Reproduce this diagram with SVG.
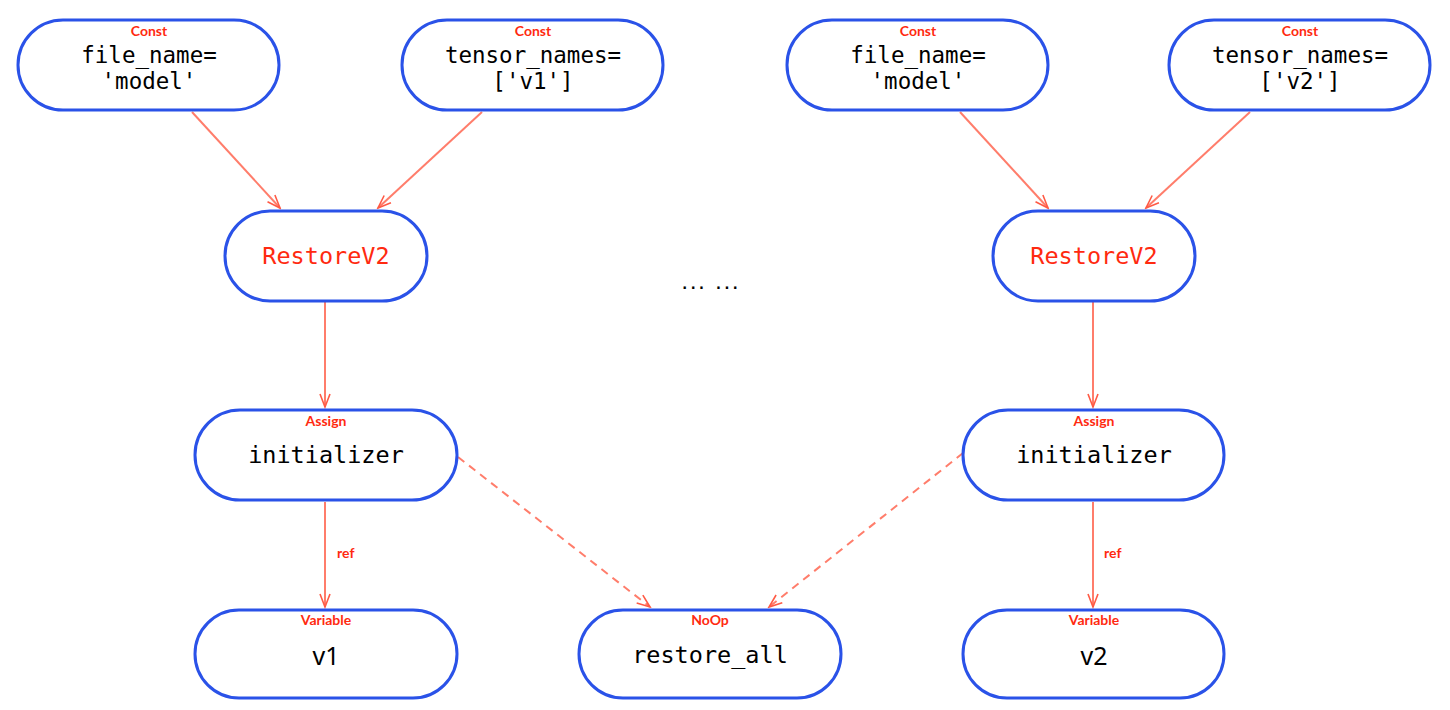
<svg xmlns="http://www.w3.org/2000/svg" width="1450" height="710" viewBox="0 0 1450 710">
<defs>
<style>
.node{fill:#fff;stroke:#2a52e8;stroke-width:3}
.type{font-family:"Lato","Open Sans",sans-serif;font-weight:bold;font-size:14px;fill:#ff2a10;text-anchor:middle}
.main{font-family:"DejaVu Sans Mono","Liberation Mono",monospace;font-size:22.5px;fill:#000;text-anchor:middle}
.big{font-size:23.5px}
.red{fill:#ff2a10}
.sans{font-family:"Noto Sans","DejaVu Sans",sans-serif;font-size:25px}
.edge{stroke:#ff7d6b;stroke-width:2;fill:none;marker-end:url(#arr)}
.dash{stroke-dasharray:8,6}
.elab{font-family:"Lato","Open Sans",sans-serif;font-weight:bold;font-size:14px;fill:#ff2a10}
</style>
<marker id="arr" markerWidth="16" markerHeight="12" refX="14" refY="6" orient="auto" markerUnits="userSpaceOnUse">
<path d="M1,1 L14,6 L1,11" fill="none" stroke="#ff5a45" stroke-width="1.6"/>
</marker>
</defs>
<rect width="1450" height="710" fill="#fff"/>
<g id="edges">
<line class="edge" x1="192" y1="112" x2="280" y2="208"/>
<line class="edge" x1="482" y1="112" x2="378" y2="208"/>
<line class="edge" x1="960" y1="112" x2="1048" y2="208"/>
<line class="edge" x1="1250" y1="112" x2="1146" y2="208"/>
<line class="edge" x1="325" y1="302" x2="325" y2="407"/>
<line class="edge" x1="1093" y1="302" x2="1093" y2="407"/>
<line class="edge" x1="325" y1="502" x2="325" y2="607"/>
<line class="edge" x1="1093" y1="502" x2="1093" y2="607"/>
<line class="edge dash" x1="458" y1="457" x2="650" y2="607"/>
<line class="edge dash" x1="963" y1="453" x2="769" y2="607"/>
<text class="elab" x="337" y="558">ref</text>
<text class="elab" x="1104" y="558">ref</text>
</g>
<g id="n_const1">
<rect class="node" x="18" y="20" width="261" height="90" rx="45"/>
<text class="type" x="149" y="36">Const</text>
<text class="main" x="149" y="63">file_name=</text>
<text class="main" x="149" y="89">'model'</text>
</g>
<g id="n_const2">
<rect class="node" x="402" y="20" width="261" height="90" rx="45"/>
<text class="type" x="533" y="36">Const</text>
<text class="main" x="533" y="63">tensor_names=</text>
<text class="main" x="533" y="89">['v1']</text>
</g>
<g id="n_const3">
<rect class="node" x="787" y="20" width="261" height="90" rx="45"/>
<text class="type" x="918" y="36">Const</text>
<text class="main" x="918" y="63">file_name=</text>
<text class="main" x="918" y="89">'model'</text>
</g>
<g id="n_const4">
<rect class="node" x="1169" y="20" width="261" height="90" rx="45"/>
<text class="type" x="1300" y="36">Const</text>
<text class="main" x="1300" y="63">tensor_names=</text>
<text class="main" x="1300" y="89">['v2']</text>
</g>
<g id="n_restore1">
<rect class="node" x="225" y="211" width="202" height="90" rx="45"/>
<text class="main big red" x="326" y="264">RestoreV2</text>
</g>
<g id="n_restore2">
<rect class="node" x="993" y="211" width="202" height="90" rx="45"/>
<text class="main big red" x="1094" y="264">RestoreV2</text>
</g>
<text id="ellipsis" x="710" y="289" font-family="DejaVu Sans Mono,monospace" font-weight="bold" font-size="14" text-anchor="middle" fill="#000">... ...</text>
<g id="n_init1">
<rect class="node" x="195" y="410" width="262" height="90" rx="45"/>
<text class="type" x="326" y="426">Assign</text>
<text class="main big" x="326" y="463">initializer</text>
</g>
<g id="n_init2">
<rect class="node" x="963" y="410" width="261" height="90" rx="45"/>
<text class="type" x="1094" y="426">Assign</text>
<text class="main big" x="1094" y="463">initializer</text>
</g>
<g id="n_v1">
<rect class="node" x="195" y="610" width="262" height="88" rx="44"/>
<text class="type" x="326" y="625">Variable</text>
<text class="sans" x="326" y="665" text-anchor="middle">v1</text>
</g>
<g id="n_restore_all">
<rect class="node" x="579" y="610" width="262" height="88" rx="44"/>
<text class="type" x="710" y="625">NoOp</text>
<text class="main big" x="710" y="663">restore_all</text>
</g>
<g id="n_v2">
<rect class="node" x="963" y="610" width="261" height="88" rx="44"/>
<text class="type" x="1094" y="625">Variable</text>
<text class="sans" x="1094" y="665" text-anchor="middle">v2</text>
</g>
</svg>
